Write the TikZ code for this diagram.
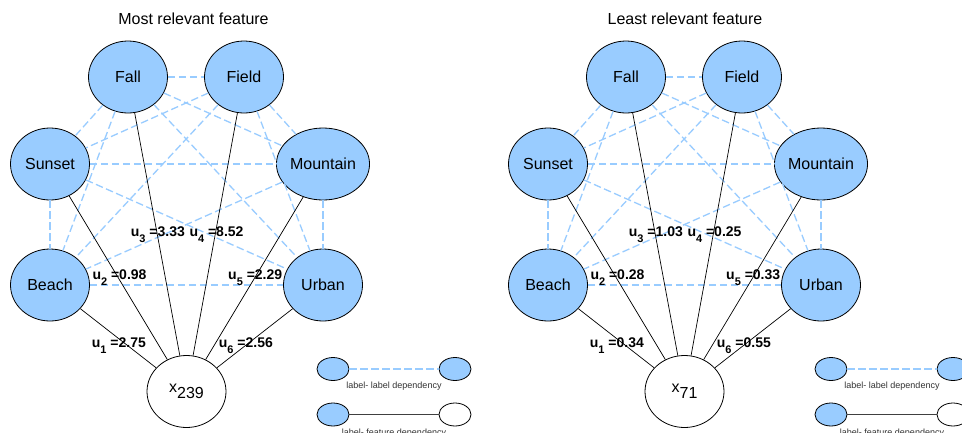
\documentclass[tikz,border=0pt]{standalone}
\usepackage{fontspec}
\setmainfont{Liberation Sans}
\usetikzlibrary{shapes.geometric}
\definecolor{nodeblue}{HTML}{99CCFF}
\definecolor{dashblue}{HTML}{99CCFF}
\definecolor{legtext}{HTML}{333333}
\newcommand\usub[1]{u\raisebox{-6pt}{\fontsize{11}{11}\selectfont #1}}
\tikzset{
  lbl/.style={ellipse, draw=black, line width=0.8pt, fill=nodeblue, minimum width=79pt, minimum height=72pt, inner sep=0pt, font=\fontsize{16}{19}\selectfont},
  feat/.style={ellipse, draw=black, line width=0.8pt, fill=white, minimum width=79pt, minimum height=72pt, inner sep=0pt, font=\fontsize{16}{19}\selectfont},
  smlbl/.style={ellipse, draw=black, line width=0.8pt, fill=nodeblue, minimum width=32pt, minimum height=23pt, inner sep=0pt},
  smfeat/.style={ellipse, draw=black, line width=0.8pt, fill=white, minimum width=32pt, minimum height=23pt, inner sep=0pt},
  dep/.style={draw=dashblue, line width=1.3pt, dash pattern=on 7.5pt off 3.5pt},
  fdep/.style={draw=black, line width=0.7pt},
  legline/.style={draw=black!75, line width=1.3pt},
  ulab/.style={anchor=base west, inner sep=0pt, font=\bfseries\fontsize{14}{16}\selectfont},
  ttl/.style={font=\fontsize{16}{19}\selectfont},
  legtxt/.style={font=\fontsize{9}{10}\selectfont, text=legtext}
}
\newcommand\drawpanel[9]{%
\begin{scope}[shift={(#1,0)}]
  \node[lbl] (#2fall) at (128,77) {Fall};
  \node[lbl] (#2field) at (244,77) {Field};
  \node[lbl] (#2sunset) at (50,164) {Sunset};
  \node[lbl] (#2mountain) at (323,164) {Mountain};
  \node[lbl] (#2beach) at (50,285) {Beach};
  \node[lbl] (#2urban) at (323,285) {Urban};
  \node[feat] (#2x) at (186.5,391.5) {x\raisebox{-6pt}{#3}};
  \foreach \a/\b in {fall/field,fall/sunset,fall/mountain,fall/beach,fall/urban,
    field/sunset,field/mountain,field/beach,field/urban,
    sunset/mountain,sunset/beach,sunset/urban,
    mountain/beach,mountain/urban,beach/urban}
    \draw[dep] (#2\a) -- (#2\b);
  \foreach \a in {fall,field,sunset,mountain,beach,urban}
    \draw[fdep] (#2\a) -- (#2x);
  \node[ulab] (#2u1) at (91.7,347.3) {\usub{1} =#4};
  \node[ulab] (#2u2) at (92.3,279.3) {\usub{2} =#5};
  \node[ulab] (#2u3) at (130.7,236.7) {\usub{3} =#6};
  \node[ulab] (#2u4) at (189.3,236.7) {\usub{4} =#7};
  \node[ulab] (#2u5) at (228,279.3) {\usub{5} =#8};
  \node[ulab] (#2u6) at (218.7,347.3) {\usub{6} =#9};
  % legend
  \node[smlbl] (#2la) at (333,369) {};
  \node[smlbl] (#2lb) at (455,369) {};
  \draw[dep] (#2la) -- (#2lb);
  \node[legtxt] (#2lt1) at (394,386) {label- label dependency};
  \node[smlbl] (#2lc) at (333,414.5) {};
  \node[smfeat] (#2ld) at (455,414.5) {};
  \draw[legline] (#2lc) -- (#2ld);
  \node[legtxt] (#2lt2) at (394,433.5) {label- feature dependency};
\end{scope}}
\begin{document}
\begin{tikzpicture}[x=1pt,y=-1pt]
  \useasboundingbox (0,0) rectangle (962,432);
  \clip (0,0) rectangle (962,432);
  \fill[white] (0,0) rectangle (962,432);
  \node[ttl] (t1) at (193.5,19) {Most relevant feature};
  \node[ttl] (t2) at (685,19) {Least relevant feature};
  \drawpanel{0}{a}{239}{2.75}{0.98}{3.33}{8.52}{2.29}{2.56}
  \drawpanel{498}{b}{71}{0.34}{0.28}{1.03}{0.25}{0.33}{0.55}
\end{tikzpicture}
\end{document}
